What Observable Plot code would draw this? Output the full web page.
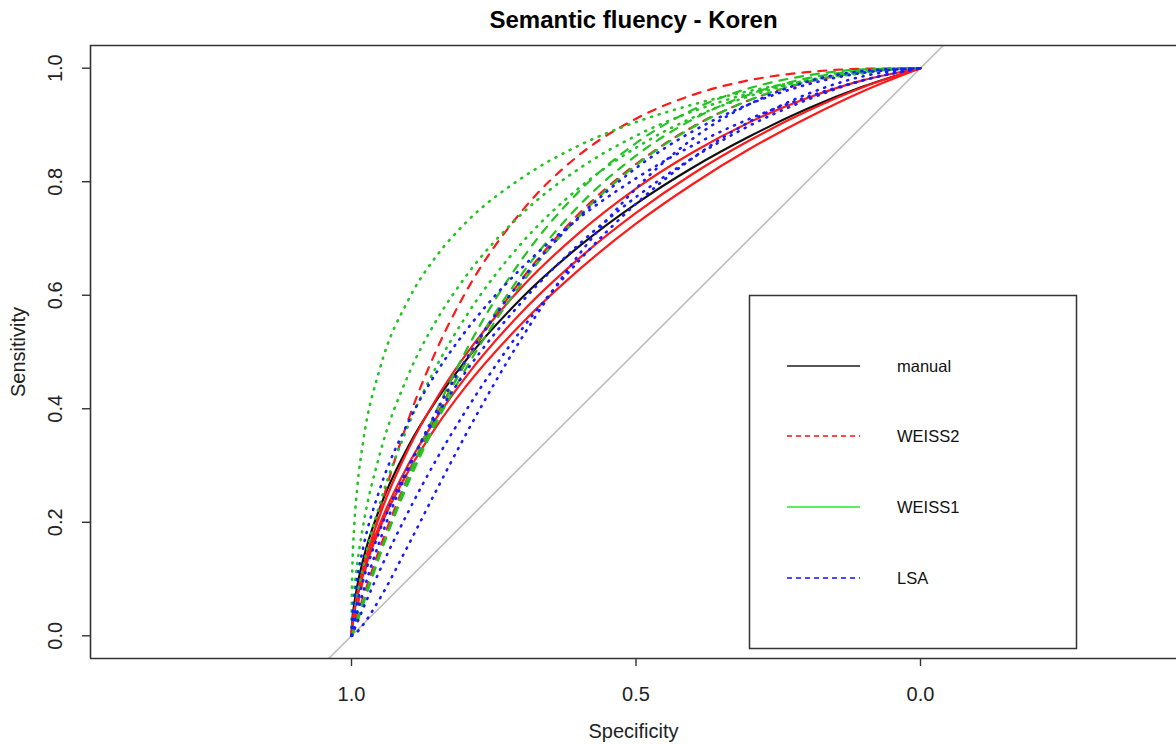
<!DOCTYPE html>
<html><head><meta charset="utf-8">
<script src="https://cdn.jsdelivr.net/npm/d3@7"></script>
<script src="https://cdn.jsdelivr.net/npm/@observablehq/plot@0.6"></script>
<style>
html,body{margin:0;padding:0;background:#fff;}
#wrap{position:relative;width:1176px;height:744px;overflow:hidden;font-family:"Liberation Sans",Arial,sans-serif;}
#wrap svg{font-family:"Liberation Sans",Arial,sans-serif;}
#legend{position:absolute;left:0;top:0;}
</style></head><body><div id="wrap"></div>
<script>
const specificity = [1, 0.999, 0.995, 0.99, 0.98, 0.95, 0.9, 0.85, 0.8, 0.7, 0.6, 0.5, 0.4, 0.3, 0.2, 0.1, 0];

// manual (black solid)
const manual       = [0,.021,.057,.087,.132,.226,.334,.416,.484,.596,.686,.761,.825,.880,.928,.968,1];
// WEISS2 (red): solid variants and dashed variants
const weiss2SolidA = [0,.014,.045,.073,.117,.213,.329,.419,.494,.615,.710,.788,.852,.905,.947,.979,1];
const weiss2SolidB = [0,.015,.044,.069,.110,.197,.302,.385,.455,.571,.665,.745,.814,.873,.924,.967,1];
const weiss2SolidC = [0,.015,.043,.068,.106,.190,.290,.370,.438,.551,.645,.726,.796,.858,.912,.960,1];
const weiss2DashA  = [0,.004,.024,.050,.097,.220,.381,.505,.604,.749,.847,.911,.953,.979,.993,.999,1];
const weiss2DashB  = [0,.003,.017,.034,.066,.155,.282,.389,.480,.629,.744,.831,.897,.944,.975,.994,1];
// WEISS1 (green): dotted and dashed variants
const weiss1DotA  = [0,.099,.197,.260,.339,.471,.592,.670,.727,.807,.864,.905,.936,.960,.978,.991,1];
const weiss1DotB  = [0,.028,.081,.126,.191,.321,.460,.557,.632,.744,.823,.881,.924,.956,.978,.993,1];
const weiss1DotC  = [0,.010,.040,.070,.119,.233,.371,.476,.561,.693,.789,.860,.913,.951,.978,.994,1];
const weiss1DashA = [0,.001,.011,.024,.054,.143,.280,.398,.500,.664,.783,.868,.927,.965,.987,.998,1];
const weiss1DashB = [0,.002,.012,.027,.056,.143,.272,.384,.481,.638,.758,.846,.910,.954,.982,.996,1];
const weiss1DashC = [0,.002,.014,.030,.060,.146,.270,.377,.469,.622,.739,.829,.896,.944,.976,.994,1];
// LSA (blue): dotted variants
const lsaDotA = [0,.004,.021,.041,.076,.168,.294,.397,.485,.628,.738,.824,.889,.937,.971,.992,1];
const lsaDotB = [0,.024,.066,.101,.153,.259,.377,.465,.536,.649,.736,.806,.864,.911,.949,.979,1];
const lsaDotC = [0,.000,.003,.007,.019,.066,.160,.258,.353,.526,.672,.788,.876,.937,.976,.995,1];
const lsaDotD = [0,.002,.011,.023,.047,.116,.219,.312,.395,.541,.661,.761,.842,.906,.954,.986,1];
const lsaDotE = [0,.010,.034,.058,.096,.186,.298,.388,.464,.589,.690,.773,.842,.899,.944,.979,1];

// chance diagonal (sensitivity = 1 - specificity)
const chanceSpec = [1.1, -0.1];
const chanceSens = [-0.1, 1.1];

const xTicks = [1.0, 0.5, 0.0];
const yTicks = [0.0, 0.2, 0.4, 0.6, 0.8, 1.0];
const titleText = "Semantic fluency - Koren";
const xLabel = "Specificity";
const yLabel = "Sensitivity";
const legendLabels = ["manual", "WEISS2", "WEISS1", "LSA"];

const RED = "#ff1a1a", GREEN = "#22c422", BLUE = "#1a1aff", BLACK = "#111";
const DOT = "1,7", DASH = "8,8";
const curves = [
  {v: manual, stroke: BLACK, dash: null},
  {v: weiss2SolidA, stroke: RED, dash: null},
  {v: weiss2SolidB, stroke: RED, dash: null},
  {v: weiss2SolidC, stroke: RED, dash: null},
  {v: weiss2DashA, stroke: RED, dash: DASH},
  {v: weiss2DashB, stroke: RED, dash: DASH},
  {v: weiss1DotA, stroke: GREEN, dash: DOT},
  {v: weiss1DotB, stroke: GREEN, dash: DOT},
  {v: weiss1DotC, stroke: GREEN, dash: DOT},
  {v: weiss1DashA, stroke: GREEN, dash: DASH},
  {v: weiss1DashB, stroke: GREEN, dash: DASH},
  {v: weiss1DashC, stroke: GREEN, dash: DASH},
  {v: lsaDotA, stroke: BLUE, dash: DOT},
  {v: lsaDotB, stroke: BLUE, dash: DOT},
  {v: lsaDotC, stroke: BLUE, dash: DOT},
  {v: lsaDotD, stroke: BLUE, dash: DOT},
  {v: lsaDotE, stroke: BLUE, dash: DOT}
];

const xDomain = [1.4587, -0.4499];
const yDomain = [-0.04, 1.04];
const rows = vals => specificity.map((s, i) => ({spec: s, sens: vals[i]}));
const chanceRows = chanceSpec.map((s, i) => ({spec: s, sens: chanceSens[i]}));

const curveMarks = curves.map(c => Plot.line(rows(c.v), {
  x: "spec", y: "sens", stroke: c.stroke, strokeWidth: c.dash === DOT ? 2.6 : 2.2,
  strokeDasharray: c.dash || undefined, strokeLinecap: "round",
  curve: "monotone-x", clip: true
}));

const chart = Plot.plot({
  width: 1176, height: 744,
  marginLeft: 90, marginRight: 0, marginTop: 45, marginBottom: 86,
  x: {domain: xDomain, axis: null},
  y: {domain: yDomain, axis: null},
  style: {fontFamily: "Liberation Sans, Arial, sans-serif", background: "white", color: "black"},
  marks: [
    Plot.line(chanceRows, {x: "spec", y: "sens", stroke: "#bdbdbd", strokeWidth: 1.6, clip: true}),
    ...curveMarks,
    Plot.ruleY([yDomain[1]], {stroke: "#333", strokeWidth: 1.6}),
    Plot.ruleY([yDomain[0]], {stroke: "#333", strokeWidth: 1.6}),
    Plot.ruleX([xDomain[0]], {stroke: "#333", strokeWidth: 1.6}),
    Plot.axisX(xTicks, {anchor: "bottom", tickSize: 8, tickFormat: () => "", label: null, stroke: "#333", strokeWidth: 1.4}),
    Plot.axisY(yTicks, {anchor: "left", tickSize: 8, tickFormat: () => "", label: null, stroke: "#333", strokeWidth: 1.4}),
    Plot.text(xTicks, {x: d => d, text: d => d.toFixed(1), frameAnchor: "bottom", lineAnchor: "middle", dy: 36, fontSize: 20, fill: "#222"}),
    Plot.text(yTicks, {y: d => d, text: d => d.toFixed(1), frameAnchor: "left", dx: -35, rotate: -90, textAnchor: "middle", lineAnchor: "middle", fontSize: 20, fill: "#222"}),
    Plot.text([xLabel], {text: d => d, frameAnchor: "bottom", lineAnchor: "middle", dy: 73, fontSize: 20, fill: "#222"}),
    Plot.text([yLabel], {text: d => d, frameAnchor: "left", dx: -72, rotate: -90, textAnchor: "middle", lineAnchor: "middle", fontSize: 20, fill: "#222"}),
    Plot.text([titleText], {text: d => d, frameAnchor: "top", lineAnchor: "middle", dy: -25, fontSize: 24, fontWeight: "bold", fill: "#000"})
  ]
});
document.getElementById("wrap").appendChild(chart);

// Legend box (as drawn by R's legend())
const legendColors = ["#555", "#ff4a4a", "#5fec5f", "#4a4aff"];
const legendDash = [null, "5,4", null, "5,4"];
const lg = d3.select("#wrap").append("svg").attr("id", "legend")
  .attr("width", 1176).attr("height", 744);
lg.append("rect").attr("x", 749.5).attr("y", 295.5).attr("width", 327).attr("height", 353)
  .attr("fill", "white").attr("stroke", "#333").attr("stroke-width", 1.5);
const rowY = [366, 436, 507, 578];
legendLabels.forEach((lab, i) => {
  lg.append("line").attr("x1", 787).attr("x2", 860).attr("y1", rowY[i]).attr("y2", rowY[i])
    .attr("stroke", legendColors[i]).attr("stroke-width", 2)
    .attr("stroke-dasharray", legendDash[i]);
  lg.append("text").attr("x", 897).attr("y", rowY[i]).attr("dy", "0.35em")
    .attr("font-size", 16.5).attr("fill", "#111")
    .style("font-family", "Liberation Sans, Arial, sans-serif").text(lab);
});
</script>
</body></html>
